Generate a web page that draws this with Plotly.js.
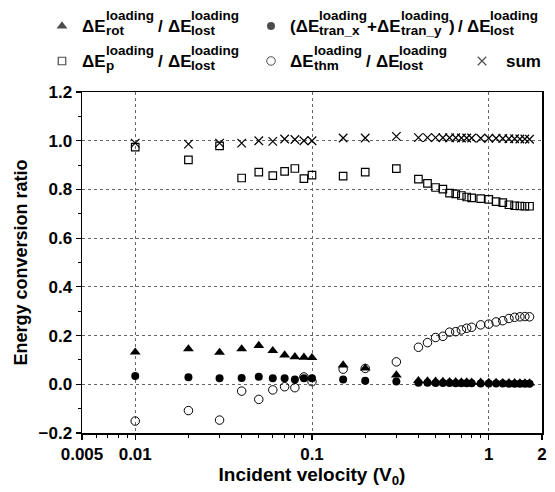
<!DOCTYPE html>
<html><head><meta charset="utf-8">
<script src="https://cdn.plot.ly/plotly-3.0.1.min.js"></script>
<style>html,body{margin:0;padding:0;background:#fff}#chart{width:555px;height:492px}</style>
</head><body><div id="chart"></div>
<script>
// ---------- data ----------
const velocity = [0.01,0.02,0.03,0.04,0.05,0.06,0.07,0.08,0.09,0.1,
  0.15,0.2,0.3,0.4,0.45,0.5,0.55,0.6,0.65,0.7,0.75,0.8,0.9,1.0,1.1,1.2,1.3,1.4,1.5,1.6,1.7];
const rotRatio = [0.132,0.145,0.131,0.145,0.159,0.138,0.120,0.113,0.111,0.109,
  0.079,0.066,0.038,0.015,0.013,0.012,0.011,0.010,0.010,0.009,0.009,0.008,0.008,0.007,0.007,0.006,0.006,0.006,0.005,0.005,0.005];
const tranRatio = [0.034,0.029,0.025,0.026,0.031,0.025,0.025,0.020,0.025,0.025,
  0.020,0.015,0.011,0.006,0.006,0.005,0.005,0.005,0.004,0.004,0.004,0.004,0.003,0.003,0.003,0.003,0.002,0.002,0.002,0.002,0.002];
const potRatio = [0.974,0.921,0.979,0.847,0.871,0.857,0.874,0.886,0.844,0.859,
  0.855,0.871,0.885,0.842,0.825,0.808,0.801,0.785,0.782,0.775,0.769,0.765,0.762,0.759,0.750,0.746,0.737,0.733,0.732,0.731,0.731];
const thmRatio = [-0.151,-0.108,-0.147,-0.028,-0.062,-0.023,-0.010,-0.014,0.030,0.011,
  0.062,0.065,0.092,0.152,0.171,0.192,0.197,0.214,0.216,0.223,0.230,0.234,0.244,0.247,0.256,0.261,0.270,0.275,0.277,0.278,0.277];
const sumRatio = [0.990,0.986,0.990,0.990,1.000,0.997,1.007,1.005,1.000,1.000,
  1.011,1.011,1.018,1.013,1.013,1.013,1.012,1.012,1.012,1.011,1.011,1.011,1.010,1.010,1.010,1.009,1.008,1.008,1.007,1.007,1.006];
const xTickVals = [0.005,0.01,0.1,1,2];
const xTickText = ['0.005','0.01','0.1','1','2'];
const xMinorVals = [0.006,0.007,0.008,0.009,0.02,0.03,0.04,0.05,0.06,0.07,0.08,0.09,0.2,0.3,0.4,0.5,0.6,0.7,0.8,0.9];
const yRange = [-0.2,1.2];

// ---------- layout constants ----------
const W = 555, H = 492;
const PL = 82, PR = 542, PT = 92, PB = 433;   // plot area in pixels
const FONT = 'Liberation Sans, Arial, sans-serif';
const MAIN = 17, SCRIPT = 13.5, SUPDY = -10.5, SUBDY = 4.5;
const ROW1 = 26, ROW2 = 61;
const COL1M = 62, COL1T = 82, COL2M = 271, COL2T = 290, COL3M = 482, COL3T = 506;

const ctx = document.createElement('canvas').getContext('2d');
function tw(s, size){ ctx.font = 'bold ' + size + 'px "Liberation Sans"'; return ctx.measureText(s).width; }
function ann(text, x, y, size){
  return {text: text, x: x / W, y: 1 - y / H, xref: 'paper', yref: 'paper',
    xanchor: 'left', yanchor: 'middle', showarrow: false, borderpad: 0, borderwidth: 0,
    font: {family: FONT, size: size, color: '#000', weight: 700}};
}
const annotations = [];
function rich(segs, x, y){
  for (const s of segs){
    if (typeof s === 'number'){ x += s; continue; }
    if (typeof s === 'string'){ annotations.push(ann(s, x, y, MAIN)); x += tw(s, MAIN); }
    else {
      annotations.push(ann(s.sup, x, y + SUPDY, SCRIPT));
      annotations.push(ann(s.sub, x, y + SUBDY, SCRIPT));
      x += Math.max(tw(s.sup, SCRIPT), tw(s.sub, SCRIPT));
    }
  }
}
const GAP = tw(' ', MAIN);
rich(['ΔE', {sup:'loading', sub:'rot'}, GAP, '/', GAP, 'ΔE', {sup:'loading', sub:'lost'}], COL1T, ROW1);
rich(['(ΔE', {sup:'loading', sub:'tran_x'}, '+ΔE', {sup:'loading', sub:'tran_y'}, ')', GAP * 0.8, '/', GAP * 0.8, 'ΔE', {sup:'loading', sub:'lost'}], COL2T, ROW1);
rich(['ΔE', {sup:'loading', sub:'p'}, GAP, '/', GAP, 'ΔE', {sup:'loading', sub:'lost'}], COL1T, ROW2);
rich(['ΔE', {sup:'loading', sub:'thm'}, GAP, '/', GAP, 'ΔE', {sup:'loading', sub:'lost'}], COL2T, ROW2);
rich(['sum'], COL3T, ROW2);

const mk = {
  rot:  {symbol: 'triangle-up', size: 9.5, color: '#000', line: {width: 0}},
  tran: {symbol: 'circle', size: 8, color: '#000', line: {width: 0}},
  pot:  {symbol: 'square-open', size: 7.5, color: '#000', line: {width: 1.2, color: '#000'}},
  thm:  {symbol: 'circle-open', size: 8.5, color: '#000', line: {width: 1, color: '#000'}},
  sum:  {symbol: 'x-thin-open', size: 8.5, color: '#000', line: {width: 1.2, color: '#000'}}
};
function series(y, m){ return {x: velocity, y: y, type: 'scatter', mode: 'markers', marker: m, cliponaxis: false, showlegend: false, hoverinfo: 'skip'}; }
const traces = [
  series(sumRatio, mk.sum), series(potRatio, mk.pot), series(thmRatio, mk.thm),
  series(tranRatio, mk.tran), series(rotRatio, mk.rot)
];
// legend keys
const keys = [mk.rot, mk.tran, mk.pot, mk.thm, mk.sum];
traces.push({x: [COL1M, COL2M, COL1M, COL2M, COL3M], y: [ROW1, ROW1, ROW2, ROW2, ROW2],
  xaxis: 'x2', yaxis: 'y2', type: 'scatter', mode: 'markers', showlegend: false, hoverinfo: 'skip',
  marker: {symbol: keys.map(k => k.symbol), size: keys.map(k => k.size), color: '#000',
    line: {width: keys.map(k => k.line.width), color: '#000'}}});

const tickFont = {family: FONT, size: 17, color: '#000', weight: 700};
const layout = {
  width: W, height: H, margin: {l: 0, r: 0, t: 0, b: 0},
  paper_bgcolor: '#fff', plot_bgcolor: 'rgba(0,0,0,0)', showlegend: false,
  xaxis: {type: 'log', domain: [PL / W, PR / W], range: [Math.log10(0.005), Math.log10(2)],
    tickmode: 'array', tickvals: xTickVals, ticktext: xTickText, ticks: 'outside', ticklen: 5, tickwidth: 1.2,
    tickcolor: '#000', tickfont: tickFont, showline: true, linewidth: 1.5, linecolor: '#000', mirror: true,
    showgrid: true, gridcolor: '#666', griddash: 'dot', gridwidth: 1, zeroline: false, automargin: false,
    minor: {tickmode: 'array', tickvals: xMinorVals, ticks: 'outside', ticklen: 3, tickwidth: 1, tickcolor: '#000', showgrid: false},
    title: {text: 'Incident velocity (V<sub>0</sub>)', font: {family: FONT, size: 19, color: '#000', weight: 700}, standoff: 4}},
  yaxis: {domain: [1 - PB / H, 1 - PT / H], range: yRange, tickmode: 'linear', tick0: 0, dtick: 0.2, tickformat: '.1f',
    ticks: 'outside', ticklen: 5, tickwidth: 1.2, tickcolor: '#000', tickfont: tickFont,
    showline: true, linewidth: 1.5, linecolor: '#000', mirror: true,
    showgrid: true, gridcolor: '#666', griddash: 'dot', gridwidth: 1, zeroline: false, automargin: false,
    minor: {dtick: 0.1, ticks: 'outside', ticklen: 3, tickwidth: 1, tickcolor: '#000', showgrid: false},
    title: {text: 'Energy conversion ratio', font: {family: FONT, size: 18, color: '#000', weight: 700}, standoff: 6}},
  xaxis2: {domain: [0, 1], range: [0, W], visible: false, fixedrange: true, anchor: 'y2'},
  yaxis2: {domain: [0, 1], range: [H, 0], visible: false, fixedrange: true, anchor: 'x2'},
  annotations: annotations
};
Plotly.newPlot('chart', traces, layout, {staticPlot: true, displayModeBar: false});
</script></body></html>
